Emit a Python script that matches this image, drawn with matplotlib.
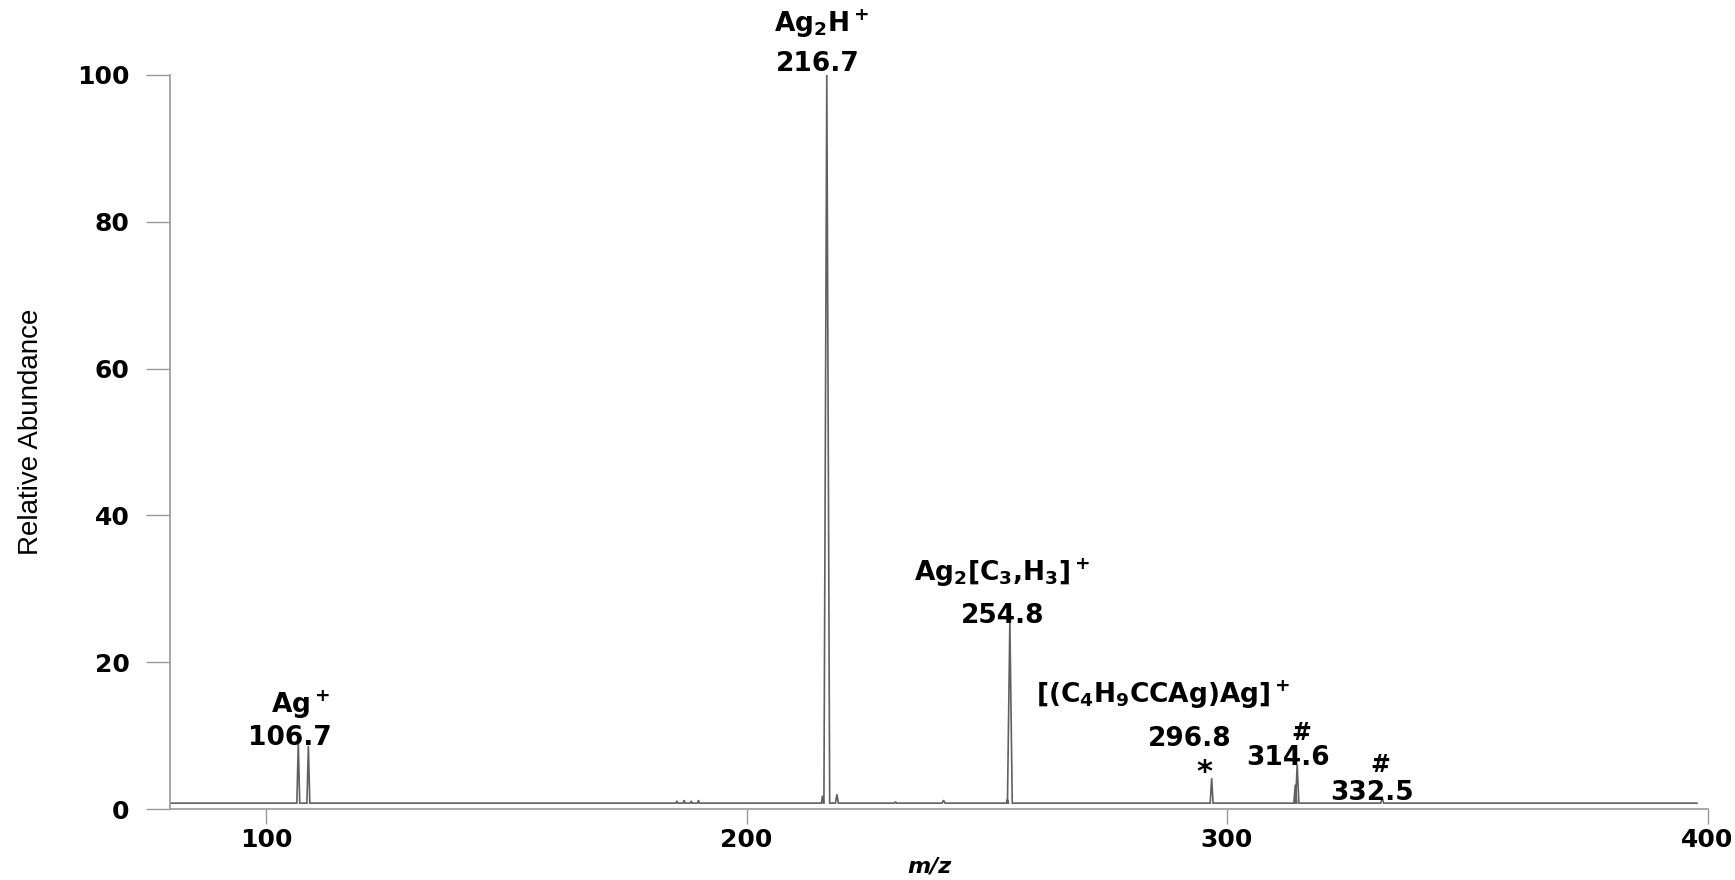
import matplotlib
matplotlib.use("Agg")
import matplotlib.pyplot as plt

# ---- data ----
baseline_level = 0.8
mz_range = [80.0, 397.8]
peak_mz = [106.7, 108.8, 185.5, 187.0, 188.5, 190.0, 215.8, 216.7, 218.8,
           231.0, 241.0, 254.3, 254.8, 296.8, 314.2, 314.6, 332.3]
peak_height = [9.0, 8.6, 1.1, 1.2, 1.1, 1.2, 1.8, 100.0, 2.0,
               1.0, 1.2, 1.3, 25.5, 4.2, 3.3, 6.0, 1.5]
peak_halfwidth = [0.3, 0.3, 0.2, 0.2, 0.2, 0.2, 0.2, 0.6, 0.3,
                  0.2, 0.3, 0.2, 0.5, 0.3, 0.3, 0.35, 0.3]

x_ticks = [100, 200, 300, 400]
y_ticks = [0, 20, 40, 60, 80, 100]

# annotation labels: (text, x, y, va, size)
labels = [
    ("Ag$_2$H$^+$", 215.5, 105.9, "baseline", 19),
    ("216.7", 214.9, 100.5, "baseline", 19),
    ("Ag$^+$", 107.1, 13.1, "baseline", 19),
    ("106.7", 105.0, 8.7, "baseline", 19),
    ("Ag$_2$[C$_3$,H$_3$]$^+$", 253.2, 31.0, "baseline", 19),
    ("254.8", 253.2, 25.4, "baseline", 19),
    ("[(C$_4$H$_9$CCAg)Ag]$^+$", 286.7, 14.4, "baseline", 19),
    ("296.8", 292.3, 8.6, "baseline", 19),
    ("*", 295.2, 3.8, "baseline", 22),
    ("#", 315.4, 10.3, "center", 17),
    ("314.6", 312.7, 6.0, "baseline", 19),
    ("#", 332.0, 6.0, "center", 17),
    ("332.5", 330.2, 1.2, "baseline", 19),
]

# ---- build the profile polyline from the peak table ----
xs = [mz_range[0]]
ys = [baseline_level]
for c, h, w in sorted(zip(peak_mz, peak_height, peak_halfwidth)):
    xs += [c - w, c, c + w]
    ys += [baseline_level, h, baseline_level]
xs.append(mz_range[1])
ys.append(baseline_level)

plt.rcParams['mathtext.default'] = 'bf'
plt.rcParams['mathtext.fontset'] = 'dejavusans'

fig = plt.figure(figsize=(17.35, 8.8), dpi=100)
ax = fig.add_axes([170 / 1735, 1 - 809 / 880, 1537.5 / 1735, 734 / 880])

ax.plot(xs, ys, color="#606060", lw=1.2, solid_joinstyle="miter")

ax.set_xlim(80, 400)
ax.set_ylim(0, 100)
ax.set_xticks(x_ticks)
ax.set_yticks(y_ticks)

for s in ["top", "right"]:
    ax.spines[s].set_visible(False)
for s in ["left", "bottom"]:
    ax.spines[s].set_color("#999999")
    ax.spines[s].set_linewidth(1.2)

ax.tick_params(axis="y", length=17, width=1.0, color="#999999", pad=12,
               labelsize=18)
ax.tick_params(axis="x", length=11, width=1.0, color="#999999", pad=3,
               labelsize=18)
for lab in ax.get_xticklabels() + ax.get_yticklabels():
    lab.set_fontweight("bold")

ax.set_ylabel("Relative Abundance", family=["Liberation Sans", "DejaVu Sans"],
              fontsize=20)
ax.yaxis.set_label_coords(-0.082, 0.514)
ax.set_xlabel("m/z", fontsize=16, fontweight="bold", style="italic",
              va="center")
ax.xaxis.set_label_coords(0.494, -0.078)

for txt, x, y, va, size in labels:
    ax.text(x, y, txt, ha="center", va=va, fontsize=size, fontweight="bold",
            clip_on=False)

fig.savefig("out.png", dpi=100)
